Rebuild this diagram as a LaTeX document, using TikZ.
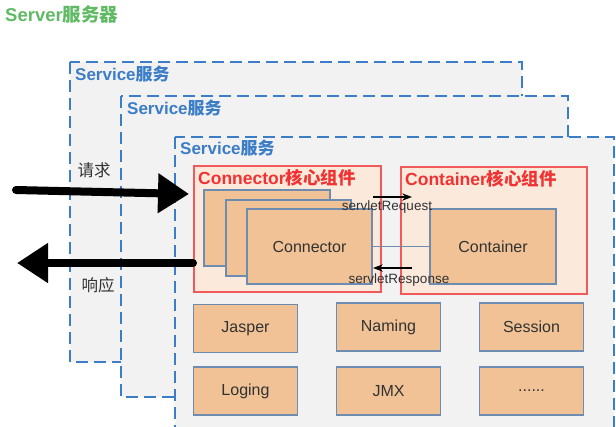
\documentclass[tikz,border=0pt]{standalone}
\usepackage{fontspec}
\setmainfont{Liberation Sans}
\newfontfamily\cjk{Noto Sans CJK SC}
\usetikzlibrary{arrows.meta}

\definecolor{srvgreen}{RGB}{96,186,100}
\definecolor{svcblue}{RGB}{60,125,200}
\definecolor{svcgray}{RGB}{242,242,242}
\definecolor{corered}{RGB}{240,90,90}
\definecolor{coretext}{RGB}{240,50,50}
\definecolor{corefill}{RGB}{251,234,220}
\definecolor{tanfill}{RGB}{240,194,150}
\definecolor{tanedge}{RGB}{110,139,176}
\definecolor{boxtext}{RGB}{50,50,50}

\begin{document}
\begin{tikzpicture}[x=1pt, y=-1pt, >=Stealth,
    svcbox/.style={draw=svcblue, fill=svcgray, line width=2.5pt, dash pattern=on 12pt off 6pt},
    svclabel/.style={anchor=west, inner sep=0pt, text=svcblue, font=\fontsize{17}{19}\selectfont\bfseries},
    corebox/.style={draw=corered, fill=corefill, line width=1.3pt, inner sep=0pt, outer sep=0pt},
    corelabel/.style={anchor=west, inner sep=0pt, text=coretext, font=\fontsize{17.5}{19}\selectfont\bfseries},
    tanbox/.style={draw=tanedge, fill=tanfill, line width=1.3pt, inner sep=0pt, outer sep=0pt, text=boxtext, font=\fontsize{16}{18}\selectfont},
    smallbox/.style={tanbox, minimum width=104pt, minimum height=48pt},
    bigarrow/.style={-{Triangle[length=31pt,width=38pt]}, line width=8pt, line cap=round},
    smallarrow/.style={->, line width=1.5pt},
    smalllabel/.style={inner sep=0pt, text=boxtext, font=\fontsize{13.5}{15}\selectfont}]
        \useasboundingbox (0,0) rectangle (616,426);
        \clip (0,0) rectangle (616,426);

        % 서버 제목
        \node[anchor=west, inner sep=0pt, text=srvgreen, font=\fontsize{18.5}{20}\selectfont\bfseries] (server) at (5,14) {Server{\cjk 服务器}};

        % 겹쳐진 Service 상자 세 개 (뒤에서 앞으로)
        \draw[svcbox] (70,62) rectangle (522,362);
        \node[svclabel] (svc1) at (75,74) {Service{\cjk 服务}};
        \draw[svcbox] (121,96) rectangle (568,397);
        \node[svclabel] (svc2) at (127,108) {Service{\cjk 服务}};
        \draw[svcbox] (175,137) rectangle (614,450);
        \node[svclabel] (svc3) at (180,148) {Service{\cjk 服务}};

        % 핵심 구성요소 두 개
        \node[corebox, minimum width=187pt, minimum height=126pt] (ccore) at (287.5,229) {};
        \node[corelabel] at (198,178) {Connector{\cjk 核心组件}};
        \node[corebox, minimum width=186pt, minimum height=127pt] (tcore) at (494,230.5) {};
        \node[corelabel] at (405,179) {Container{\cjk 核心组件}};

        % 겹쳐진 Connector 상자와 Container 상자
        \node[tanbox, minimum width=126pt, minimum height=76pt] (conn1) at (267,228) {};
        \node[tanbox, minimum width=125pt, minimum height=76pt] (conn2) at (288.5,238) {};
        \node[tanbox, minimum width=125pt, minimum height=75pt] (conn3) at (309.5,246.5) {Connector};
        \node[tanbox, minimum width=126pt, minimum height=75pt] (cont) at (493,246.5) {Container};
        \draw[tanedge, line width=1.3pt] (conn3.east) -- (cont.west);

        % servletRequest / servletResponse
        \coordinate (reqa) at (373,197);
        \coordinate (reqb) at (412,197);
        \draw[smallarrow] (reqa) -- (reqb);
        \node[smalllabel] (reqlabel) at (387,207) {servletRequest};
        \coordinate (resa) at (412,268);
        \coordinate (resb) at (373,268);
        \draw[smallarrow] (resa) -- (resb);
        \node[smalllabel] (reslabel) at (399,280) {servletResponse};

        % 하단 구성요소
        \node[smallbox] (jasper) at (245.5,328.5) {Jasper};
        \node[smallbox] (naming) at (388.5,327) {Naming};
        \node[smallbox] (session) at (531.5,327) {Session};
        \node[smallbox] (loging) at (245.5,391) {Loging};
        \node[smallbox] (jmx) at (388.5,391) {JMX};
        \node[smallbox] (more) at (531.5,391) {......};

        % 요청과 응답 화살표
        \coordinate (reqtail) at (16,190);
        \coordinate (reqtip) at (189,194);
        \draw[bigarrow] (reqtail) -- (reqtip);
        \node[inner sep=0pt, text=boxtext, font=\fontsize{16.5}{18}\selectfont\cjk] (req) at (94,170) {请求};
        \coordinate (restail) at (193,263);
        \coordinate (restip) at (17,263);
        \draw[bigarrow] (restail) -- (restip);
        \node[inner sep=0pt, text=boxtext, font=\fontsize{16.5}{18}\selectfont\cjk] (res) at (98,285) {响应};
    \end{tikzpicture}
\end{document}
